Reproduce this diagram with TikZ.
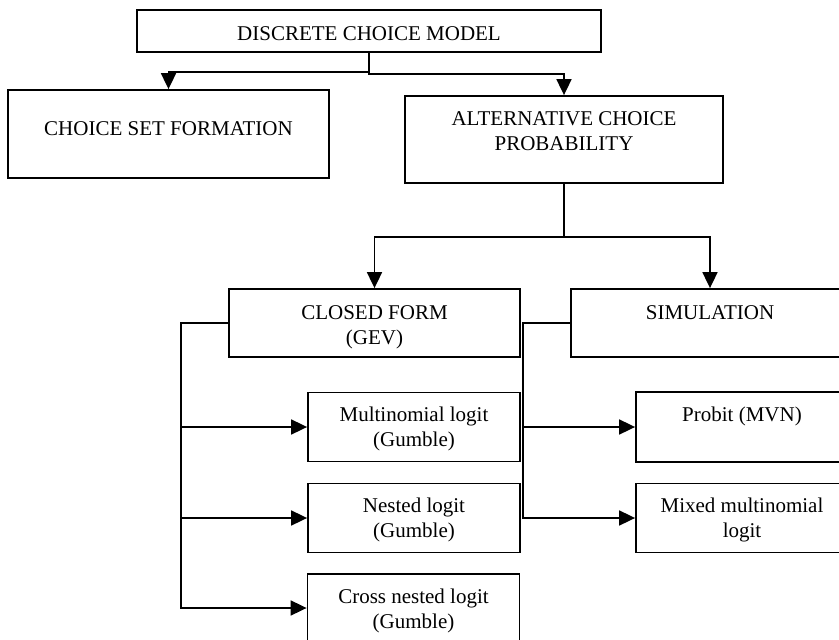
\documentclass[tikz,border=0pt]{standalone}
\usepackage{fontspec}
\setmainfont{Liberation Serif}
\usetikzlibrary{arrows.meta}
\begin{document}
\begin{tikzpicture}[x=1pt,y=-1pt,
  box/.style={draw, line width=1.8pt, rectangle, inner sep=0pt},
  lbl/.style={anchor=north, inner sep=0pt, align=center, font=\fontsize{21}{25}\selectfont},
  conn/.style={line width=1.8pt, -{Triangle[length=16pt,width=15pt]}}]
\useasboundingbox (0,0) rectangle (839,640);
\clip (0,0) rectangle (839,640);
% boxes
\node[box, minimum width=464pt, minimum height=42pt] (dcm) at (369,31) {};
\node[box, minimum width=321pt, minimum height=88pt] (csf) at (168.5,134) {};
\node[box, minimum width=318pt, minimum height=87pt] (acp) at (564,139.5) {};
\node[box, minimum width=291pt, minimum height=68pt] (cf) at (374.5,323) {};
\node[box, minimum width=278pt, minimum height=68pt] (sim) at (710,323) {};
\node[box, minimum width=212pt, minimum height=69pt] (ml) at (414,427) {};
\node[box, minimum width=212pt, minimum height=69pt] (nl) at (414,518) {};
\node[box, minimum width=212pt, minimum height=68pt] (cnl) at (413.5,608) {};
\node[box, minimum width=212pt, minimum height=70pt] (pr) at (742,427) {};
\node[box, minimum width=212pt, minimum height=69pt] (mx) at (742,518) {};
% labels
\node[lbl] (dcmt) at ([yshift=-17pt]dcm.north) {DISCRETE CHOICE MODEL};
\node[lbl] (csft) at ([yshift=-32pt]csf.north) {CHOICE SET FORMATION};
\node[lbl] (acpt) at ([yshift=-16pt]acp.north) {ALTERNATIVE CHOICE\\PROBABILITY};
\node[lbl] (cft) at ([yshift=-17pt]cf.north) {CLOSED FORM\\(GEV)};
\node[lbl] (simt) at ([yshift=-17pt]sim.north) {SIMULATION};
\node[lbl] (mlt) at ([yshift=-15pt]ml.north) {Multinomial logit\\(Gumble)};
\node[lbl] (nlt) at ([yshift=-15.5pt]nl.north) {Nested logit\\(Gumble)};
\node[lbl] (cnlt) at ([yshift=-15.5pt]cnl.north) {Cross nested logit\\(Gumble)};
\node[lbl] (prt) at ([yshift=-15.5pt]pr.north) {Probit (MVN)};
\node[lbl] (mxt) at ([yshift=-15.5pt]mx.north) {Mixed multinomial\\logit};
% connectors from top
\draw[conn] (dcm.south) -- ++(0,19) -| (csf.north);
\draw[conn] (dcm.south) -- ++(0,21) -| (acp.north);
\draw[conn] (acp.south) -- ++(0,53) -| (cf.north);
\draw[conn] (acp.south) -- ++(0,53) -| (sim.north);
% closed form bus
\coordinate (busL) at (181,323);
\draw[conn] (cf.west) -- (busL) |- (cnl.west);
\draw[conn] (busL |- ml.west) -- (ml.west);
\draw[conn] (busL |- nl.west) -- (nl.west);
% simulation bus
\coordinate (busR) at (523,323);
\draw[conn] (sim.west) -- (busR) |- (mx.west);
\draw[conn] (busR |- pr.west) -- (pr.west);
\end{tikzpicture}
\end{document}
